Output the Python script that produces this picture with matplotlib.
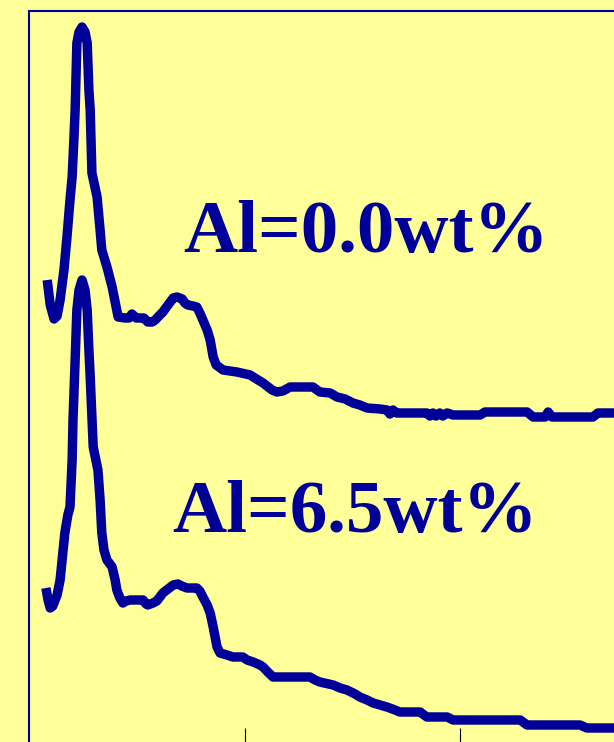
import matplotlib
matplotlib.use("Agg")
import matplotlib.pyplot as plt

# radial distribution curves, r in Å, intensity in arbitrary units
r_al00 = [0.40, 0.47, 0.56, 0.63, 0.70, 0.79, 0.86, 0.93, 0.98, 1.02, 1.05, 1.09, 1.14,
          1.21, 1.28, 1.33, 1.37, 1.40, 1.44, 1.56, 1.63, 1.67, 1.79, 1.91, 2.05, 2.21,
          2.30, 2.37, 2.47, 2.56, 2.65, 2.74, 2.84, 2.91, 3.02, 3.09, 3.21, 3.33, 3.42,
          3.54, 3.60, 3.67, 3.79, 3.88, 3.95, 4.02, 4.12, 4.19, 4.26, 4.33, 4.49, 4.81,
          5.12, 5.23, 5.42, 5.51, 5.63, 5.74, 5.88, 6.05, 6.58, 6.74, 6.98, 7.14, 7.33,
          7.51, 7.67, 7.84, 8.14, 8.30, 8.37, 8.44, 8.53, 9.23, 9.30, 9.37, 9.44, 9.53,
          9.60, 9.70, 9.84, 10.47, 10.58, 11.56, 11.70, 11.98, 12.05, 12.14, 12.33,
          13.09, 13.21, 14.00]
g_al00 = [4.64, 4.39, 4.25, 4.28, 4.44, 4.74, 5.07, 5.44, 5.67, 6.04, 6.34, 7.01, 7.12,
          7.17, 7.12, 7.01, 6.54, 6.34, 5.71, 5.47, 5.14, 4.94, 4.77, 4.57, 4.27, 4.26,
          4.26, 4.30, 4.26, 4.26, 4.26, 4.22, 4.22, 4.24, 4.29, 4.32, 4.39, 4.46, 4.47,
          4.45, 4.41, 4.39, 4.38, 4.37, 4.31, 4.24, 4.14, 4.04, 3.87, 3.79, 3.74, 3.72,
          3.69, 3.66, 3.61, 3.58, 3.54, 3.52, 3.53, 3.57, 3.57, 3.52, 3.51, 3.47, 3.45,
          3.41, 3.39, 3.36, 3.35, 3.34, 3.30, 3.34, 3.31, 3.31, 3.28, 3.31, 3.28, 3.31,
          3.28, 3.31, 3.29, 3.29, 3.32, 3.32, 3.27, 3.27, 3.32, 3.27, 3.27,
          3.27, 3.31, 3.31]

r_al65 = [0.37, 0.42, 0.47, 0.53, 0.63, 0.70, 0.81, 0.88, 0.93, 0.98, 1.00, 1.05, 1.09,
          1.14, 1.21, 1.28, 1.33, 1.37, 1.40, 1.47, 1.58, 1.63, 1.67, 1.72, 1.79, 1.91,
          1.98, 2.02, 2.09, 2.16, 2.23, 2.33, 2.63, 2.70, 2.74, 2.86, 2.95, 3.02, 3.09,
          3.21, 3.33, 3.44, 3.53, 3.65, 3.88, 3.95, 4.02, 4.12, 4.19, 4.26, 4.35, 4.42,
          4.58, 4.72, 4.95, 5.05, 5.19, 5.35, 5.42, 5.53, 5.65, 6.51, 6.63, 6.74, 7.05,
          7.21, 7.37, 7.56, 7.67, 7.84, 7.98, 8.14, 8.30, 8.49, 8.60, 9.07, 9.23, 9.70,
          9.84, 11.40, 11.56, 12.79, 12.95, 14.00]
g_al65 = [1.56, 1.44, 1.36, 1.38, 1.49, 1.64, 2.11, 2.29, 2.37, 2.84, 3.24, 3.84, 4.34,
          4.54, 4.64, 4.54, 4.34, 3.94, 3.67, 2.97, 2.74, 2.44, 2.11, 1.94, 1.84, 1.77,
          1.64, 1.54, 1.46, 1.41, 1.43, 1.44, 1.44, 1.40, 1.39, 1.41, 1.43, 1.47, 1.51,
          1.55, 1.59, 1.60, 1.58, 1.56, 1.56, 1.53, 1.47, 1.39, 1.31, 1.17, 0.97, 0.91,
          0.89, 0.87, 0.87, 0.84, 0.82, 0.79, 0.77, 0.72, 0.67, 0.67, 0.64, 0.62, 0.59,
          0.56, 0.54, 0.50, 0.47, 0.44, 0.41, 0.39, 0.37, 0.34, 0.32, 0.32, 0.27, 0.27,
          0.24, 0.24, 0.19, 0.19, 0.16, 0.16]

labels = ["Al=0.0wt%", "Al=6.5wt%"]
label_pos = [(3.56, 4.92), (3.30, 2.12)]
r_ticks = [5, 10, 15]

navy = "#000099"
bg = "#FFFF99"

W, H = 614, 742
fig = plt.figure(figsize=(W / 100, H / 100), dpi=100, facecolor=bg)

# the frame runs off the right and bottom edges of the figure
x0, x1 = -1 / 43, 15.0
y0, y1 = 0.0, 7.33
ax = fig.add_axes([29 / W, -2 / H, 43 * (x1 - x0) / W, 733 / H])
ax.set_facecolor(bg)
ax.set_xlim(x0, x1)
ax.set_ylim(y0, y1)

for r, g in [(r_al00, g_al00), (r_al65, g_al65)]:
    ax.plot(r, g, color=navy, lw=6.8, solid_capstyle="butt", solid_joinstyle="round")

for text, (tx, ty) in zip(labels, label_pos):
    ax.text(tx, ty, text, color=navy, fontsize=54, fontweight="bold",
            family="Liberation Serif", ha="left", va="baseline")

ax.set_xticks(r_ticks)
ax.set_xticklabels([])
ax.set_yticks([])
ax.tick_params(axis="x", direction="in", length=11.5, width=0.8, color="black")
for side in ax.spines:
    ax.spines[side].set_color(navy)
    ax.spines[side].set_linewidth(1.5)

fig.savefig("out.png", dpi=100, facecolor=bg)
